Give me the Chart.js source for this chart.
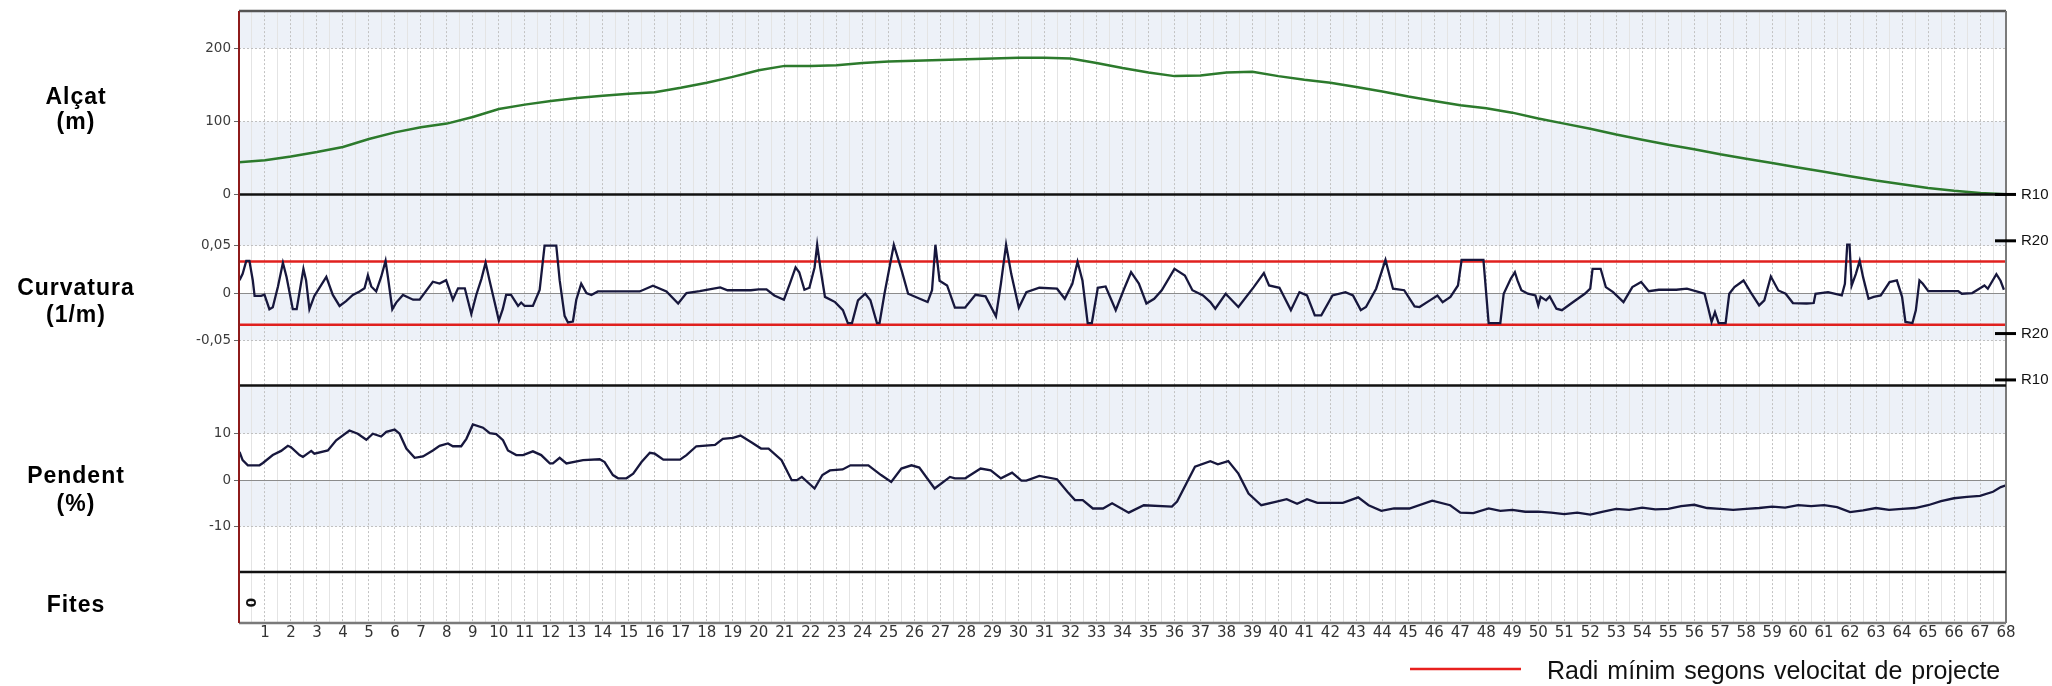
<!DOCTYPE html>
<html>
<head>
<meta charset="utf-8">
<script src="https://cdn.jsdelivr.net/npm/chart.js"></script>
<style>
html,body{margin:0;padding:0;background:#fff;}
canvas{display:block;}
</style>
</head>
<body>
<canvas id="c" width="2052" height="686"></canvas>
<script>
// ---------- DATA ----------
const xTickLabels = ['1','2','3','4','5','6','7','8','9','10','11','12','13','14','15','16','17','18','19','20',
  '21','22','23','24','25','26','27','28','29','30','31','32','33','34','35','36','37','38','39','40',
  '41','42','43','44','45','46','47','48','49','50','51','52','53','54','55','56','57','58','59','60',
  '61','62','63','64','65','66','67','68'];

// Alçat (m)
const altX = [0,1,2,3,4,5,6,7,8,9,
  10,11,12,13,14,15,16,17,18,19,
  20,21,22,23,24,25,26,27,28,29,
  30,31,32,33,34,35,36,37,38,39,
  40,41,42,43,44,45,46,47,48,49,
  50,51,52,53,54,55,56,57,58,59,
  60,61,62,63,64,65,66,67,68];
const altY = [44,47,52,58,65,76,85,92,97,106,
  117,123,128,132,135,138,140,146,153,161,
  170,176,176,177,180,182,183,184,185,186,
  187,187,186,180,173,167,162,163,167,168,
  162,157,153,147,141,134,128,122,118,112,
  104,97,90,82,75,68,62,55,49,43,
  37,31,25,19,14,9,5,2,0.3];

// Curvatura (1/m)
const curvX = [0.02,0.14,0.28,0.40,0.53,0.60,0.85,0.98,1.17,1.30,
  1.50,1.69,1.83,2.07,2.22,2.48,2.58,2.71,2.90,3.36,
  3.61,3.87,4.12,4.38,4.64,4.83,4.96,5.09,5.28,5.47,
  5.64,5.73,5.90,6.05,6.31,6.70,6.95,7.46,7.72,7.97,
  8.23,8.43,8.69,8.94,9.13,9.33,9.49,9.64,9.84,10.00,
  10.15,10.28,10.47,10.74,10.86,10.99,11.31,11.57,11.76,12.21,
  12.34,12.53,12.66,12.85,12.98,13.17,13.37,13.56,13.81,15.42,
  15.93,16.45,16.90,17.22,17.73,17.99,18.52,18.80,19.70,20.00,
  20.30,20.60,20.97,21.20,21.42,21.56,21.76,21.95,22.15,22.25,
  22.37,22.55,22.94,23.24,23.43,23.59,23.82,24.10,24.30,24.55,
  24.65,24.84,25.20,25.50,25.75,26.20,26.50,26.67,26.80,26.96,
  27.25,27.55,27.94,28.34,28.73,29.13,29.32,29.52,29.72,30.01,
  30.30,30.80,31.48,31.78,32.07,32.27,32.46,32.66,32.82,33.05,
  33.35,33.74,34.04,34.33,34.63,34.92,35.22,35.51,36.00,36.40,
  36.69,37.10,37.38,37.57,37.97,38.46,39.05,39.44,39.64,40.04,
  40.48,40.81,41.10,41.40,41.65,42.08,42.58,42.87,43.17,43.37,
  43.76,44.12,44.41,44.84,45.24,45.43,45.83,46.12,46.32,46.62,
  46.91,47.05,47.89,48.09,48.54,48.67,48.94,49.10,49.20,49.35,
  49.60,49.89,50.00,50.09,50.30,50.44,50.70,50.91,51.25,51.79,
  52.00,52.09,52.40,52.60,52.88,53.28,53.62,53.96,54.25,54.64,
  55.31,55.72,56.40,56.53,56.67,56.80,56.94,57.21,57.35,57.55,
  57.90,58.17,58.50,58.70,58.95,59.24,59.52,59.80,60.33,60.60,
  60.67,61.15,61.68,61.80,61.89,61.98,62.06,62.22,62.37,62.50,
  62.71,62.91,63.18,63.52,63.80,64.00,64.13,64.40,64.53,64.67,
  64.80,65.01,66.16,66.30,66.70,66.97,67.17,67.30,67.63,67.79,
  67.92];
const curvY = [0.0136,0.0204,0.034,0.034,0.0136,-0.003,-0.003,-0.0017,-0.017,-0.015,
  0.007,0.032,0.017,-0.017,-0.017,0.0255,0.0136,-0.017,-0.003,0.017,
  -0.002,-0.0136,-0.0085,-0.002,0.0017,0.005,0.0187,0.007,0.0017,0.017,
  0.034,0.017,-0.017,-0.010,-0.002,-0.007,-0.007,0.012,0.010,0.0136,
  -0.007,0.005,0.005,-0.022,-0.002,0.015,0.032,0.0136,-0.010,-0.029,
  -0.017,-0.002,-0.002,-0.0136,-0.010,-0.0136,-0.0136,0.0034,0.05,0.05,
  0.0136,-0.024,-0.031,-0.030,-0.007,0.010,0,-0.002,0.0017,0.0017,
  0.0078,0.0017,-0.011,0,0.002,0.0034,0.006,0.003,0.003,0.004,
  0.004,-0.0025,-0.007,0.010,0.027,0.022,0.0035,0.0056,0.027,0.051,
  0.027,-0.004,-0.0095,-0.018,-0.0316,-0.0316,-0.0077,-0.0007,-0.0077,-0.0316,
  -0.0316,-0.0007,0.051,0.024,-0.0007,-0.006,-0.0095,0.003,0.051,0.013,
  0.008,-0.0154,-0.0154,-0.0018,-0.0035,-0.0246,0.0098,0.051,0.020,-0.0154,
  0.001,0.0056,0.0046,-0.006,0.0098,0.033,0.013,-0.0316,-0.0316,0.0056,
  0.007,-0.018,0.003,0.022,0.010,-0.011,-0.006,0.003,0.0256,0.0186,
  0.003,-0.0025,-0.0095,-0.0165,-0.0007,-0.0147,0.0063,0.021,0.008,0.0056,
  -0.018,0.001,-0.0025,-0.0235,-0.0235,-0.0025,0.001,-0.0025,-0.018,-0.0147,
  0.0046,0.035,0.0046,0.003,-0.014,-0.0147,-0.0077,-0.0025,-0.0095,-0.004,
  0.008,0.035,0.035,-0.0316,-0.0316,-0.0007,0.015,0.022,0.0133,0.003,
  -0.0007,-0.0025,-0.013,-0.004,-0.0077,-0.0035,-0.0165,-0.018,-0.0112,-0.0007,
  0.0046,0.0256,0.0256,0.0063,0.001,-0.0095,0.0063,0.0116,0.002,0.0035,
  0.0035,0.0046,-0.0007,-0.0147,-0.0305,-0.020,-0.0316,-0.0316,-0.0007,0.0063,
  0.0133,0.001,-0.013,-0.0077,0.0175,0.0028,-0.0007,-0.0105,-0.011,-0.0105,
  -0.0007,0.001,-0.0025,0.0098,0.051,0.051,0.008,0.020,0.034,0.0168,
  -0.006,-0.004,-0.0025,0.0116,0.0133,-0.004,-0.0305,-0.0316,-0.0182,0.0133,
  0.0098,0.002,0.002,-0.0007,0,0.0046,0.008,0.0046,0.020,0.013,
  0.0035];

// Pendent (%)
const slopeX = [0.02,0.14,0.34,0.79,0.92,1.30,1.62,1.88,2.00,2.33,
  2.46,2.78,2.90,3.42,3.74,4.25,4.57,4.90,5.15,5.47,
  5.67,5.99,6.18,6.44,6.76,7.08,7.46,7.72,8.04,8.23,
  8.55,8.75,9.00,9.39,9.65,9.90,10.16,10.35,10.67,10.93,
  11.31,11.63,11.96,12.08,12.34,12.60,13.24,13.88,14.07,14.39,
  14.59,14.91,15.17,15.49,15.81,16.00,16.33,16.97,17.22,17.60,
  18.32,18.62,19.01,19.30,19.70,20.09,20.38,20.88,21.27,21.47,
  21.66,22.15,22.45,22.74,23.23,23.53,24.22,24.71,25.10,25.49,
  25.88,26.18,26.77,27.36,27.55,27.95,28.54,28.93,29.32,29.75,
  30.11,30.30,30.80,31.48,31.88,32.17,32.47,32.86,33.25,33.60,
  34.24,34.82,35.90,36.10,36.79,37.38,37.67,38.07,38.46,38.85,
  39.34,39.93,40.32,40.72,41.10,41.50,42.48,43.07,43.47,43.96,
  44.45,45.04,45.92,46.61,47.00,47.50,48.09,48.54,49.00,49.50,
  50.00,50.50,51.00,51.50,52.00,52.50,53.00,53.50,54.00,54.50,
  55.00,55.50,56.00,56.50,57.00,57.50,58.00,58.50,59.00,59.50,
  60.00,60.50,61.00,61.50,62.00,62.50,63.00,63.50,64.00,64.50,
  65.00,65.50,66.00,66.50,67.00,67.50,67.80,68.00];
const slopeY = [6.1,4.3,3.2,3.2,3.7,5.4,6.3,7.4,7.1,5.4,
  5.0,6.3,5.7,6.4,8.6,10.7,10.0,8.7,10.0,9.4,
  10.4,10.9,10.0,6.8,4.8,5.1,6.4,7.4,7.9,7.3,
  7.3,8.9,12.0,11.3,10.1,9.9,8.6,6.4,5.4,5.4,
  6.2,5.4,3.6,3.6,4.8,3.6,4.3,4.5,3.9,1.1,
  0.4,0.4,1.4,3.9,5.9,5.7,4.4,4.4,5.4,7.3,
  7.6,8.9,9.1,9.6,8.2,6.8,6.8,4.3,0,0,
  0.7,-1.8,1.1,2.1,2.3,3.2,3.2,1.1,-0.4,2.5,
  3.2,2.7,-1.8,0.7,0.4,0.4,2.5,2.1,0.4,1.6,
  -0.1,-0.1,0.9,0.2,-2.5,-4.3,-4.3,-6.1,-6.1,-5.0,
  -7.0,-5.4,-5.7,-4.6,2.9,4.1,3.4,4.1,1.4,-2.9,
  -5.4,-4.6,-4.1,-5.1,-4.1,-4.9,-4.9,-3.7,-5.4,-6.6,
  -6.1,-6.1,-4.4,-5.4,-7.0,-7.1,-6.1,-6.6,-6.4,-6.8,
  -6.8,-7.0,-7.3,-7.0,-7.4,-6.8,-6.2,-6.4,-5.9,-6.3,
  -6.2,-5.6,-5.3,-6.0,-6.2,-6.4,-6.2,-6.0,-5.7,-5.9,
  -5.4,-5.6,-5.4,-5.8,-6.9,-6.5,-6.0,-6.4,-6.2,-6.0,
  -5.4,-4.5,-3.9,-3.6,-3.4,-2.5,-1.5,-1.1];

// Radi mínim (1/R) limit lines
const limitX = [0, 68];
const limitValue = [0.0333, 0.0333];

// axis ticks
const altTicks = [0, 100, 200];
const curvTicks = [-0.05, 0, 0.05];
const curvTickLabels = ['-0,05', '0', '0,05'];
const slopeTicks = [-10, 0, 10];
const rMarkValues = [0.1, 0.05, -0.05, -0.1];
const rMarkLabels = ['R10', 'R20', 'R20', 'R10'];

// Fites
const fitesX = [0.5];
const fitesY = [0.4];
const fitesText = ['0'];

// texts
const panelTitles = [['Alçat', '(m)'], ['Curvatura', '(1/m)'], ['Pendent', '(%)'], ['Fites']];
const legendText = 'Radi mínim segons velocitat de projecte';

// ---------- CHART ----------
Chart.defaults.font.family = '"Liberation Sans", Arial, sans-serif';

function pts(xs, ys) { return xs.map((x, i) => ({x: x, y: ys[i]})); }
const setTicks = (vals) => (scale) => { scale.ticks = vals.map(v => ({value: v})); };
const fixW = (w) => (scale) => { scale.width = w; };

const yTickOpts = {font: {family: '"DejaVu Sans"', size: 13.5}, color: '#3c3c3c', padding: 3};
const yGrid = {
  color: c => (c.tick && c.tick.value === 0) ? '#8c8c8c' : '#c0c0c0',
  lineWidth: 1, drawTicks: true, tickLength: 5, tickColor: '#666', tickWidth: 1
};
const yBorder = {display: false, dash: c => (c.tick && c.tick.value === 0) ? [] : [2, 2]};

const bandColor = '#edf1f8';
const bands = [
  ['yA', 200, null], ['yA', 0, 100],
  ['yC', 0.05, null], ['yC', -0.05, 0],
  ['yP', 10, null], ['yP', -10, 0]
];

function hline(ctx, x1, y1, x2, y2, color, w) {
  ctx.save();
  ctx.strokeStyle = color; ctx.lineWidth = w; ctx.setLineDash([]);
  ctx.beginPath(); ctx.moveTo(x1, y1); ctx.lineTo(x2, y2); ctx.stroke();
  ctx.restore();
}

const decor = {
  id: 'decor',
  beforeDraw(chart) {
    const ctx = chart.ctx, ca = chart.chartArea;
    ctx.save();
    ctx.fillStyle = '#ffffff';
    ctx.fillRect(0, 0, chart.width, chart.height);
    ctx.fillStyle = bandColor;
    bands.forEach(([id, lo, hi]) => {
      const s = chart.scales[id];
      const top = hi === null ? s.top : s.getPixelForValue(hi);
      const bot = s.getPixelForValue(lo);
      ctx.fillRect(ca.left, top, ca.right - ca.left, bot - top);
    });
    ctx.restore();
  },
  afterDraw(chart) {
    const ctx = chart.ctx, ca = chart.chartArea, sc = chart.scales;
    // frame
    hline(ctx, ca.left, ca.top, ca.right, ca.top, '#555', 2.5);
    hline(ctx, ca.right, ca.top, ca.right, ca.bottom, '#7a7a7a', 2);
    hline(ctx, ca.left, ca.bottom, ca.right, ca.bottom, '#7a7a7a', 2.5);
    ['yA', 'yC', 'yP'].forEach(id => hline(ctx, ca.left, sc[id].bottom, ca.right, sc[id].bottom, '#111', 2.5));
    hline(ctx, ca.left, ca.top, ca.left, ca.bottom, '#8e1b1b', 2);
    // R marks
    rMarkValues.forEach(v => {
      const y = sc.yR.getPixelForValue(v);
      hline(ctx, ca.right - 11, y, ca.right + 10, y, '#000', 3);
    });
    // Panel titles
    ctx.save();
    ctx.fillStyle = '#000';
    ctx.font = 'bold 23px "Liberation Sans", Arial, sans-serif';
    ctx.letterSpacing = '1px';
    ctx.textAlign = 'center';
    ctx.textBaseline = 'alphabetic';
    const baselines = [[104, 129], [295, 322], [483, 511], [612]];
    panelTitles.forEach((lines, i) => lines.forEach((t, j) => ctx.fillText(t, 76, baselines[i][j])));
    ctx.restore();
    // Fites markers
    ctx.save();
    ctx.fillStyle = '#111';
    ctx.font = 'bold 14px "DejaVu Sans", sans-serif';
    ctx.textAlign = 'center'; ctx.textBaseline = 'middle';
    fitesX.forEach((x, i) => {
      ctx.save();
      ctx.translate(sc.x.getPixelForValue(x), sc.yF.getPixelForValue(fitesY[i]));
      ctx.rotate(-Math.PI / 2);
      ctx.fillText(fitesText[i], 0, 0);
      ctx.restore();
    });
    ctx.restore();
    // Legend
    hline(ctx, 1410, 669, 1521, 669, '#e8201e', 2.5);
    ctx.save();
    ctx.fillStyle = '#111';
    ctx.font = '25px "Liberation Sans", Arial, sans-serif';
    ctx.wordSpacing = '2px';
    ctx.textAlign = 'left'; ctx.textBaseline = 'alphabetic';
    ctx.fillText(legendText, 1547, 679);
    ctx.restore();
  }
};

new Chart(document.getElementById('c'), {
  type: 'line',
  data: {
    datasets: [
      {label: 'Alçat', data: pts(altX, altY), xAxisID: 'x', yAxisID: 'yA',
       borderColor: '#2c7a2c', borderWidth: 2.5, pointRadius: 0, tension: 0, fill: false},
      {label: 'Curvatura', data: pts(curvX, curvY), xAxisID: 'x', yAxisID: 'yC',
       borderColor: '#17173d', borderWidth: 2.3, pointRadius: 0, tension: 0, fill: false},
      {label: 'Pendent', data: pts(slopeX, slopeY), xAxisID: 'x', yAxisID: 'yP',
       borderColor: '#17173d', borderWidth: 2.3, pointRadius: 0, tension: 0, fill: false},
      {label: legendText, data: pts(limitX, limitValue), xAxisID: 'x', yAxisID: 'yC',
       borderColor: '#e0201e', borderWidth: 2.5, pointRadius: 0, fill: false},
      {label: legendText + ' (-)', data: pts(limitX, limitValue.map(v => -v)), xAxisID: 'x', yAxisID: 'yC',
       borderColor: '#e0201e', borderWidth: 2.5, pointRadius: 0, fill: false}
    ]
  },
  options: {
    responsive: false,
    animation: false,
    devicePixelRatio: 1,
    layout: {padding: {left: 189, right: 0, top: 10, bottom: 0}},
    plugins: {legend: {display: false}, tooltip: {enabled: false}},
    scales: {
      x: {
        type: 'linear', position: 'bottom', min: 0, max: 68,
        ticks: {
          stepSize: 0.5, autoSkip: false, maxRotation: 0, padding: 1,
          font: {family: '"DejaVu Sans"', size: 15}, color: '#333',
          callback: v => (Number.isInteger(v) && v >= 1) ? xTickLabels[v - 1] : ''
        },
        grid: {
          color: c => (c.tick && Number.isInteger(c.tick.value)) ? '#c2c2c2' : '#e4e4e4',
          drawTicks: false, lineWidth: 1
        },
        border: {display: false, dash: c => (c.tick && Number.isInteger(c.tick.value)) ? [2, 2] : []},
        afterFit: s => { s.height = 63; }
      },
      // stacked panels: last defined is drawn on top
      yF: {
        type: 'linear', position: 'left', stack: 'panels', stackWeight: 51,
        min: 0, max: 1, afterFit: fixW(50),
        ticks: {display: false}, grid: {display: false}, border: {display: false}
      },
      yP: {
        type: 'linear', position: 'left', stack: 'panels', stackWeight: 187,
        min: -19.8, max: 20.4, afterBuildTicks: setTicks(slopeTicks), afterFit: fixW(50),
        ticks: yTickOpts, grid: yGrid, border: yBorder
      },
      yC: {
        type: 'linear', position: 'left', stack: 'panels', stackWeight: 191.3,
        min: -0.0974, max: 0.104, afterBuildTicks: setTicks(curvTicks), afterFit: fixW(50),
        ticks: Object.assign({}, yTickOpts, {callback: v => curvTickLabels[curvTicks.indexOf(v)]}),
        grid: yGrid, border: yBorder
      },
      yA: {
        type: 'linear', position: 'left', stack: 'panels', stackWeight: 183.7,
        min: 0, max: 251, afterBuildTicks: setTicks(altTicks), afterFit: fixW(50),
        ticks: yTickOpts, grid: yGrid, border: yBorder
      },
      yR: {
        type: 'linear', position: 'right', min: -0.3621, max: 0.2977,
        afterBuildTicks: setTicks(rMarkValues), afterFit: fixW(46),
        ticks: {callback: (v, i) => rMarkLabels[i], font: {size: 15}, color: '#111', padding: 0},
        grid: {drawOnChartArea: false, drawTicks: true, tickLength: 15, tickColor: 'rgba(0,0,0,0)'},
        border: {display: false}
      }
    }
  },
  plugins: [decor]
});
</script>
</body>
</html>
